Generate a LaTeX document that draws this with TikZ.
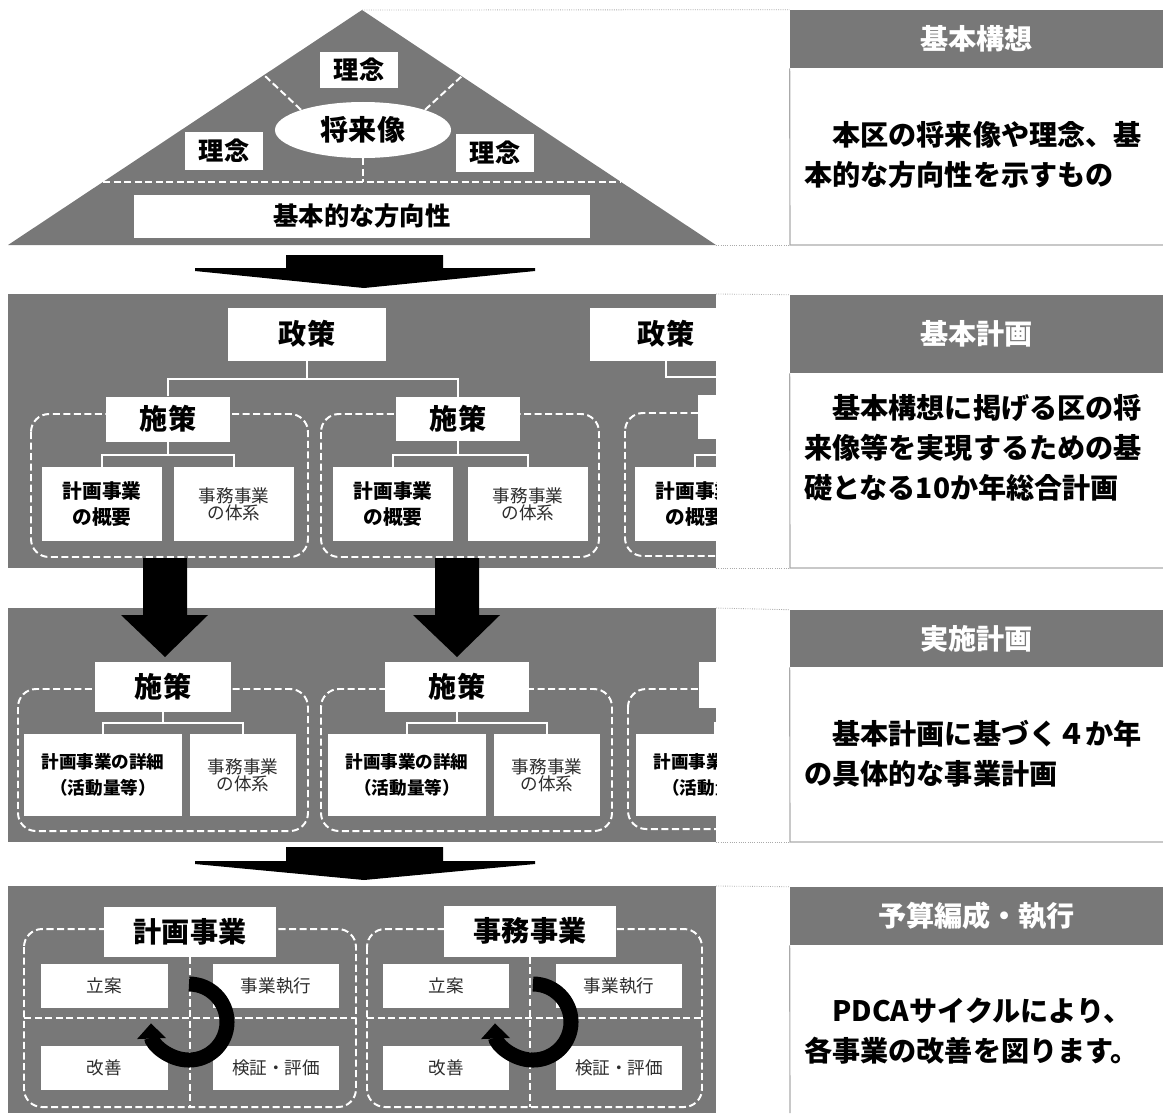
\documentclass[tikz,border=0pt]{standalone}
\usepackage{fontspec}
\setmainfont{Noto Sans CJK JP}
\usetikzlibrary{shapes.geometric,arrows.meta}

\definecolor{pgray}{RGB}{120,120,120}
\definecolor{lgray}{RGB}{170,170,170}
\definecolor{tgray}{RGB}{45,45,45}

\tikzset{
  wbox/.style={fill=white, inner sep=0pt, align=center},
  wline/.style={draw=white, line width=1.6pt},
  wdash/.style={draw=white, line width=1.4pt, dash pattern=on 5pt off 2.5pt},
  dbox/.style={wdash, rounded corners=0.45cm},
  fbig/.style={font=\bfseries\fontsize{20}{24}\selectfont},
  fmid/.style={font=\bfseries\fontsize{18}{22}\selectfont},
  fsmall/.style={font=\bfseries\fontsize{14}{19}\selectfont},
  fdetail/.style={font=\bfseries\fontsize{12.5}{18}\selectfont},
  fthin/.style={font=\fontsize{12.5}{12}\selectfont, text=tgray},
  gaibox/.style={wbox, fsmall, minimum width=3cm, minimum height=1.85cm},
  taibox/.style={wbox, fthin, minimum width=3cm, minimum height=1.85cm},
  pdcabox/.style={wbox, fthin, minimum width=3.15cm, minimum height=1.1cm},
  header/.style={fill=pgray, text=white, inner sep=0pt, minimum width=9.325cm,
    font=\bfseries\fontsize{20}{24}\selectfont},
  desc/.style={anchor=west, align=left, inner sep=0pt,
    font=\bfseries\fontsize{20}{28.5}\selectfont},
  dotline/.style={draw=lgray, line width=0.6pt, densely dotted},
  bodyline/.style={draw=lgray, line width=0.8pt},
  cyc/.style={line width=0.375cm, -{Triangle[width=0.7cm,length=0.38cm]}}
}

\begin{document}
\begin{tikzpicture}[x=0.025cm, y=-0.025cm]
  \useasboundingbox (0,0) rectangle (1163,1113);

  % --- 基本構想: triangle
  \coordinate (apex) at (362,10);
  \coordinate (bl) at (8,245);
  \coordinate (br) at (716,245);
  \fill[pgray] (bl) -- (apex) -- (br) -- cycle;
  \draw[wdash] (103,182) -- (621,182);
  \node[wbox, ellipse, fbig, minimum width=4.4cm, minimum height=1.4cm] (zo) at (363,130) {将来像};
  \coordinate (zoB) at (363,182);
  \coordinate (edL) at (264,75);
  \coordinate (edR) at (462,76);
  \draw[wdash] (zo.south) -- (zoB);
  \draw[wdash] (zo.162) -- (edL);
  \draw[wdash] (zo.18) -- (edR);
  \node[wbox, fmid, minimum width=1.95cm, minimum height=0.9cm] (rn1) at (359,70) {理念};
  \node[wbox, fmid, minimum width=1.95cm, minimum height=0.95cm] (rn2) at (224,151) {理念};
  \node[wbox, fmid, minimum width=1.95cm, minimum height=0.95cm] (rn3) at (495,153) {理念};
  \node[wbox, fmid, minimum width=11.375cm, minimum height=1.075cm] (hoko) at (362,216) {基本的な方向性};

  % arrow 1
  \fill (286,255) -- (443,255) -- (443,268) -- (535,268) -- (535,271) -- (364,288)
    -- (195,271) -- (195,268) -- (286,268) -- cycle;

  % --- 基本計画
  \begin{scope}
    \clip (8,294) rectangle (716,568);
    \fill[pgray] (8,294) rectangle (716,568);
    \draw[dbox] (31,414) rectangle (308,557);
    \draw[dbox] (321,414) rectangle (599,557);
    \draw[dbox] (625,413) rectangle (903,556);
    \node[wbox, fbig, minimum width=3.925cm, minimum height=1.325cm] (sei1) at (307,334) {政策};
    \node[wbox, fbig, minimum width=3.8cm, minimum height=1.325cm] (sei2) at (666,334) {政策};
    \node[wbox, fbig, minimum width=3.1cm, minimum height=1.125cm] (shi1) at (168,419) {施策};
    \node[wbox, fbig, minimum width=3.1cm, minimum height=1.1cm] (shi2) at (458,419) {施策};
    \node[wbox, minimum width=3.1cm, minimum height=1.1cm] (shi3) at (760,417) {};
    \node[gaibox] (gai1) at (102,504) {計画事業\\の概要};
    \node[taibox] (tai1) at (234,504) {事務事業\\の体系};
    \node[gaibox] (gai2) at (393,504) {計画事業\\の概要};
    \node[taibox] (tai2) at (528,504) {事務事業\\の体系};
    \node[gaibox] (gai3) at (695,504) {計画事業\\の概要};
    \coordinate (b1) at (307,379);
    \coordinate (b2) at (666,377);
    \draw[wline] (sei1) -- (b1);
    \draw[wline] (shi1) |- (b1) -| (shi2);
    \draw[wline] (sei2) -- (b2) -| (shi3);
    \coordinate (s1) at (168,455);
    \coordinate (s2) at (458,455);
    \coordinate (s3) at (760,455);
    \draw[wline] (shi1) -- (s1);
    \draw[wline] (gai1) |- (s1) -| (tai1);
    \draw[wline] (shi2) -- (s2);
    \draw[wline] (gai2) |- (s2) -| (tai2);
    \draw[wline] (shi3) -- (s3);
    \draw[wline] (gai3) |- (s3);
  \end{scope}

  % --- 実施計画
  \begin{scope}
    \clip (8,608) rectangle (716,842);
    \fill[pgray] (8,608) rectangle (716,842);
    \draw[dbox] (18,689) rectangle (308,831);
    \draw[dbox] (321,689) rectangle (612,831);
    \draw[dbox] (628,689) rectangle (918,829);
    \node[wbox, fbig, minimum width=3.4cm, minimum height=1.25cm] (shi4) at (163,687) {施策};
    \node[wbox, fbig, minimum width=3.6cm, minimum height=1.25cm] (shi5) at (457,687) {施策};
    \node[wbox, minimum width=3.5cm, minimum height=1.15cm] (shi6) at (769,685) {};
    \node[wbox, fdetail, minimum width=3.95cm, minimum height=2.05cm] (sho1) at (103,775) {計画事業の詳細\\（活動量等）};
    \node[wbox, fthin, minimum width=2.65cm, minimum height=2.05cm] (tai4) at (243,775) {事務事業\\の体系};
    \node[wbox, fdetail, minimum width=3.95cm, minimum height=2.05cm] (sho2) at (407,775) {計画事業の詳細\\（活動量等）};
    \node[wbox, fthin, minimum width=2.65cm, minimum height=2.05cm] (tai5) at (547,775) {事務事業\\の体系};
    \node[wbox, fdetail, minimum width=3.95cm, minimum height=2.05cm] (sho3) at (715,775) {計画事業の詳細\\（活動量等）};
    \coordinate (c1) at (163,723);
    \coordinate (c2) at (457,723);
    \coordinate (c3) at (769,723);
    \draw[wline] (shi4) -- (c1);
    \draw[wline] (sho1) |- (c1) -| (tai4);
    \draw[wline] (shi5) -- (c2);
    \draw[wline] (sho2) |- (c2) -| (tai5);
    \draw[wline] (shi6) -- (c3);
    \draw[wline] (sho3) |- (c3);
  \end{scope}

  % arrows 基本計画 -> 実施計画
  \fill (143,558) -- (187,558) -- (187,615) -- (208,615) -- (165,657) -- (121,615) -- (143,615) -- cycle;
  \fill (435,558) -- (479,558) -- (479,615) -- (500,615) -- (457,657) -- (413,615) -- (435,615) -- cycle;

  % arrow 2
  \fill (286,847) -- (443,847) -- (443,861) -- (535,861) -- (535,864) -- (364,880)
    -- (195,864) -- (195,861) -- (286,861) -- cycle;

  % --- 予算編成・執行
  \begin{scope}
    \clip (8,886) rectangle (716,1113);
    \fill[pgray] (8,886) rectangle (716,1113);
    \draw[dbox] (24,929) rectangle (356,1107);
    \draw[dbox] (367,929) rectangle (702,1107);
    \draw[wdash] (24,1018) -- (356,1018);
    \draw[wdash] (367,1018) -- (702,1018);
    \node[wbox, fbig, minimum width=4.275cm, minimum height=1.25cm] (keikaku) at (190,932) {計画事業};
    \node[wbox, fbig, minimum width=4.275cm, minimum height=1.275cm] (jimu) at (530,931) {事務事業};
    \coordinate (k1) at (190,1107);
    \coordinate (j1) at (530,1107);
    \draw[wdash] (keikaku) -- (k1);
    \draw[wdash] (jimu) -- (j1);
    \node[pdcabox] (ritsu1) at (104.5,986) {立案};
    \node[pdcabox] (shikko1) at (276,986) {事業執行};
    \node[pdcabox] (kaizen1) at (104.5,1068) {改善};
    \node[pdcabox] (kensho1) at (276,1068) {検証・評価};
    \node[pdcabox] (ritsu2) at (446,986) {立案};
    \node[pdcabox] (shikko2) at (619,986) {事業執行};
    \node[pdcabox] (kaizen2) at (446,1068) {改善};
    \node[pdcabox] (kensho2) at (619,1068) {検証・評価};
    \begin{scope}[shift={(189,1022)}, y=0.025cm]
      \draw[cyc] (0,38) arc[start angle=90, end angle=-178, radius=0.95cm];
    \end{scope}
    \begin{scope}[shift={(533,1022)}, y=0.025cm]
      \draw[cyc] (0,38) arc[start angle=90, end angle=-178, radius=0.95cm];
    \end{scope}
  \end{scope}

  % --- right column
  \node[header, minimum height=1.45cm] (hd1) at (976.5,39) {基本構想};
  \draw[bodyline] (hd1.south west) -- (790,245) -- (1163,245);
  \draw[dotline] (apex) -- (hd1.north west);
  \draw[dotline] (br) -- (790,245);
  \node[desc] (ds1) at (804,155) {　本区の将来像や理念、基\\本的な方向性を示すもの};

  \node[header, minimum height=1.95cm] (hd2) at (976.5,334) {基本計画};
  \draw[bodyline] (hd2.south west) -- (790,568) -- (1163,568);
  \draw[dotline] (716,294) -- (hd2.north west);
  \draw[dotline] (716,568) -- (790,568);
  \node[desc] (ds2) at (804,448) {　基本構想に掲げる区の将\\来像等を実現するための基\\礎となる10か年総合計画};

  \node[header, minimum height=1.425cm] (hd3) at (976.5,638.5) {実施計画};
  \draw[bodyline] (hd3.south west) -- (790,842) -- (1163,842);
  \draw[dotline] (716,608) -- (hd3.north west);
  \draw[dotline] (716,842) -- (790,842);
  \node[desc] (ds3) at (804,754) {　基本計画に基づく４か年\\の具体的な事業計画};

  \node[header, minimum height=1.45cm] (hd4) at (976.5,916) {予算編成・執行};
  \draw[bodyline] (hd4.south west) -- (790,1113);
  \draw[dotline] (716,886) -- (hd4.north west);
  \node[desc] (ds4) at (804,1031) {　PDCAサイクルにより、\\各事業の改善を図ります。};
\end{tikzpicture}
\end{document}
